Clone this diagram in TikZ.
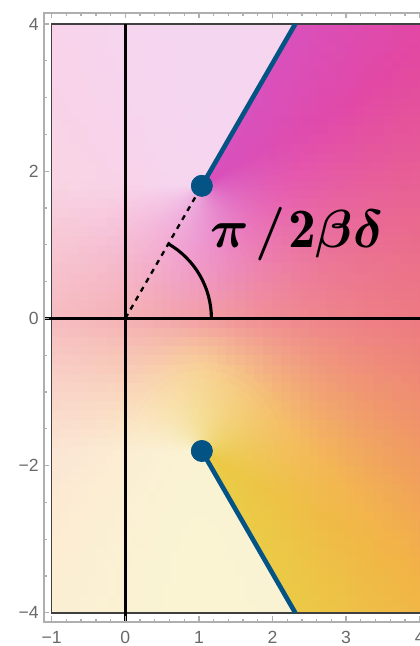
\documentclass[tikz,border=0pt]{standalone}
\usepackage{amsmath}
\usepackage{bm}
\usepackage{fontspec}
\newfontfamily\ticksfont{Liberation Sans}
\definecolor{pa}{RGB}{232,212,70}
\definecolor{pb}{RGB}{242,178,70}
\definecolor{pc}{RGB}{232,85,95}
\definecolor{pd}{RGB}{226,72,165}
\definecolor{pe}{RGB}{212,85,200}
\definecolor{cutblue}{RGB}{3,83,133}
\definecolor{framecol}{RGB}{175,175,175}
\definecolor{labcol}{RGB}{105,105,105}
% colour of the field at (#1,#2), with branch angle #3, stored as colour "cellc"
\newcommand\fieldcolor[3]{%
  \pgfmathsetmacro\fLL{max(0,min(0.76,0.0036*(#3-30)))}%
  \pgfmathsetmacro\fU{(#2)/sqrt((#2)*(#2)+ifthenelse((#1)<1,4,2.2)*((#1)-1)*((#1)-1)+1)}%
  \pgfmathsetmacro\fT{0.5+0.5*\fU}%
  \ifdim\fT pt<0.2pt
    \def\fA{pa}\def\fB{pb}\pgfmathsetmacro\fP{100-100*\fT/0.2}%
  \else\ifdim\fT pt<0.5pt
    \def\fA{pb}\def\fB{pc}\pgfmathsetmacro\fP{100-100*(\fT-0.2)/0.3}%
  \else\ifdim\fT pt<0.83pt
    \def\fA{pc}\def\fB{pd}\pgfmathsetmacro\fP{100-100*(\fT-0.5)/0.33}%
  \else
    \def\fA{pd}\def\fB{pe}\pgfmathsetmacro\fP{100-100*(\fT-0.83)/0.17}%
  \fi\fi\fi
  \pgfmathsetmacro\fP{max(0,min(100,\fP))}%
  \pgfmathsetmacro\fQ{100*(1-\fLL)}%
  \colorlet{cellc}{\fA!\fP!\fB!\fQ!white}%
}
\newcommand\fieldcell[3]{%
  \fieldcolor{#1}{#2}{#3}%
  \fill[cellc] ({#1-0.066},{#2-0.066}) rectangle ({#1+0.066},{#2+0.066});%
}
\tikzset{
  cutline/.style={line width=1.8pt, draw=cutblue},
  dotnode/.style={circle, fill=cutblue, inner sep=0pt, minimum size=0.295cm},
  axisline/.style={line width=1.1pt, draw=black},
  dashline/.style={line width=0.9pt, draw=black, dash pattern=on 2pt off 2pt},
  arcline/.style={line width=1.2pt, draw=black},
  framegray/.style={draw=framecol, line width=0.6pt},
  tickline/.style={draw=framecol, line width=0.5pt},
  plotborder/.style={draw=black!75, line width=0.6pt},
  ticklab/.style={font=\ticksfont\fontsize{6.8}{8}\selectfont, text=labcol, inner sep=0pt},
}
\begin{document}
\begin{tikzpicture}
\useasboundingbox (-1.7024,-4.451) rectangle (3.9906,4.326);
\coordinate (O) at (0,0);
\coordinate (Z1) at (1.04,1.8013);
\coordinate (Z2) at (1.04,-1.8013);
\coordinate (E1) at (2.3094,4);
\coordinate (E2) at (2.3094,-4);
% colour field, left of the cuts
\begin{scope}
  \clip (-1,4) -- (E1) -- (Z1) -- (Z2) -- (E2) -- (-1,-4) -- cycle;
  \foreach \ix in {0,...,26}{
    \foreach \iy in {0,...,63}{
      \pgfmathsetmacro\cx{-0.9375+0.125*\ix}
      \pgfmathsetmacro\cy{-3.9375+0.125*\iy}
      \pgfmathsetmacro\fAng{atan2(abs(\cy)-1.8013,\cx-1.04)}
      \pgfmathsetmacro\ph{min(360,mod(330-\fAng,360)+90)}
      \fieldcell{\cx}{\cy}{\ph}
    }
  }
\end{scope}
% colour field, right of the cuts
\begin{scope}
  \clip (E1) -- (Z1) -- (1.01,1.75) -- (1.01,-1.75) -- (Z2) -- (E2) -- (4.3,-4) -- (4.3,4) -- cycle;
  \foreach \ix in {0,...,24}{
    \foreach \iy in {0,...,63}{
      \pgfmathsetmacro\cx{1.0625+0.125*\ix}
      \pgfmathsetmacro\cy{-3.9375+0.125*\iy}
      \pgfmathsetmacro\fAng{atan2(abs(\cy)-1.8013,\cx-1.04)}
      \pgfmathsetmacro\ph{max(0,mod(510-\fAng,360)-90)}
      \fieldcell{\cx}{\cy}{\ph}
    }
  }
\end{scope}
% finer polar cells round the two branch points
\foreach \ia in {0,...,89}{
  \foreach \ir in {0,...,11}{
    \pgfmathsetmacro\phc{4*\ia+2}
    \pgfmathsetmacro\thA{60-4*\ia+0.3}
    \pgfmathsetmacro\thB{56-4*\ia-0.3}
    \pgfmathsetmacro\thc{60-\phc}
    \pgfmathsetmacro\rA{max(0,0.1*\ir-0.005)}
    \pgfmathsetmacro\rB{0.1*\ir+0.105}
    \pgfmathsetmacro\rc{0.1*\ir+0.05}
    \pgfmathsetmacro\cx{1.04+\rc*cos(\thc)}
    \pgfmathsetmacro\cy{1.8013+\rc*sin(\thc)}
    \fieldcolor{\cx}{\cy}{\phc}
    \begin{scope}[shift={(Z1)}]
      \fill[cellc] (\thA:\rA) -- (\thB:\rA) -- (\thB:\rB) -- (\thA:\rB) -- cycle;
    \end{scope}
    \fieldcolor{\cx}{-\cy}{\phc}
    \begin{scope}[shift={(Z2)}]
      \fill[cellc] (-\thA:\rA) -- (-\thB:\rA) -- (-\thB:\rB) -- (-\thA:\rB) -- cycle;
    \end{scope}
  }
}
% plot border
\draw[plotborder] (4.3,4) -- (-1,4) -- (-1,-4) -- (4.3,-4);
% axes
\coordinate (XL) at (-1.105,0);
\coordinate (XR) at (4.3,0);
\coordinate (YB) at (0,-4.124);
\coordinate (YT) at (0,4);
\draw[axisline] (XL) -- (XR);
\draw[axisline] (YB) -- (YT);
% angle
\node[dotnode] (P1) at (Z1) {};
\node[dotnode] (P2) at (Z2) {};
\draw[dashline] (O) -- (P1);
\coordinate (A0) at (1.17,0);
\draw[arcline] (A0) arc[start angle=0, end angle=60, radius=1.17];
% cuts
\draw[cutline] (P1.center) -- (E1);
\draw[cutline] (P2.center) -- (E2);
\node[dotnode] (P1b) at (Z1) {};
\node[dotnode] (P2b) at (Z2) {};
\node[anchor=base west, inner sep=0pt, font=\fontsize{21.5}{24}\selectfont] (lab) at (1.15,0.957)
  {$\bm{\pi}\mkern2mu\bm{/}\mkern1mu\mathbf{2}\bm{\beta\delta}$};
% frame
\draw[framegray] (4.3,4.15) -- (-1.105,4.15) -- (-1.105,-4.124) -- (4.3,-4.124);
\foreach \i in {-5,...,20}{
  \draw[tickline] (\i*0.2,-4.124) -- ++(0,0.045);
  \draw[tickline] (\i*0.2,4.15) -- ++(0,-0.045);
}
\foreach \i in {-1,...,4}{
  \draw[tickline] (\i,-4.124) -- ++(0,0.075);
  \draw[tickline] (\i,4.15) -- ++(0,-0.075);
}
\foreach \i in {-8,...,8}{
  \draw[tickline] (-1.105,\i*0.5) -- ++(0.045,0);
}
\foreach \i in {-2,...,2}{
  \draw[tickline] (-1.105,\i*2) -- ++(0.075,0);
}
% tick labels
\node[ticklab, anchor=east] (ly4) at (-1.17,4) {4};
\node[ticklab, anchor=east] (ly2) at (-1.17,2) {2};
\node[ticklab, anchor=east] (ly0) at (-1.17,0) {0};
\node[ticklab, anchor=east] (lym2) at (-1.17,-2) {−2};
\node[ticklab, anchor=east] (lym4) at (-1.17,-4) {−4};
\node[ticklab] (lxm1) at (-1,-4.34) {−1};
\node[ticklab] (lx0) at (0,-4.34) {0};
\node[ticklab] (lx1) at (1,-4.34) {1};
\node[ticklab] (lx2) at (2,-4.34) {2};
\node[ticklab] (lx3) at (3,-4.34) {3};
\node[ticklab] (lx4) at (4,-4.34) {4};
\end{tikzpicture}
\end{document}
